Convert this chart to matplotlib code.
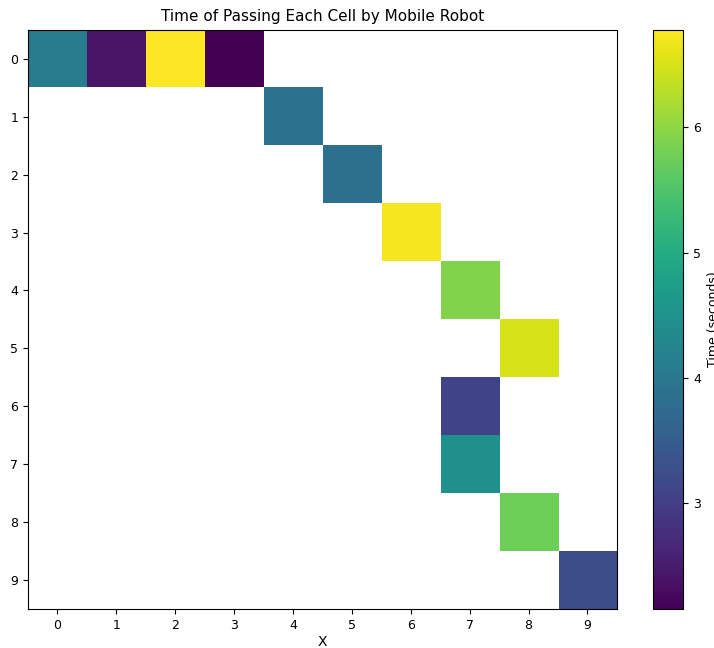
import numpy as np
import matplotlib
matplotlib.use("Agg")
import matplotlib.pyplot as plt

# -- Data: (row, col) of each visited cell and time spent there --------------
rows  = [0, 0, 0, 0, 1, 2, 3, 4, 5, 6, 7, 8, 9]
cols  = [0, 1, 2, 3, 4, 5, 6, 7, 8, 7, 7, 8, 9]
times = [4.10, 2.40, 6.78, 2.15, 3.88, 3.86, 6.72, 5.90, 6.50, 3.08, 4.47, 5.76, 3.25]
GRID  = 10

grid = np.full((GRID, GRID), np.nan)
for r, c, t in zip(rows, cols, times):
    grid[r, c] = t

fig = plt.figure(figsize=(7.14, 6.48), dpi=100)
ax  = fig.add_axes([0.039, 0.060, 0.825, 0.894])
cax = fig.add_axes([0.915, 0.060, 0.042, 0.894])

im = ax.imshow(grid, cmap="viridis", aspect="auto", interpolation="nearest")
ax.set_xticks(range(GRID))
ax.set_yticks(range(GRID))
ax.tick_params(labelsize=9)
ax.set_xlabel("X", fontsize=10, labelpad=2)
ax.set_title("Time of Passing Each Cell by Mobile Robot", fontsize=11)

cb = fig.colorbar(im, cax=cax)
cb.set_ticks([3, 4, 5, 6])
cb.ax.tick_params(labelsize=9)
cb.set_label("Time (seconds)", fontsize=9)

fig.savefig("out.png", dpi=100)
